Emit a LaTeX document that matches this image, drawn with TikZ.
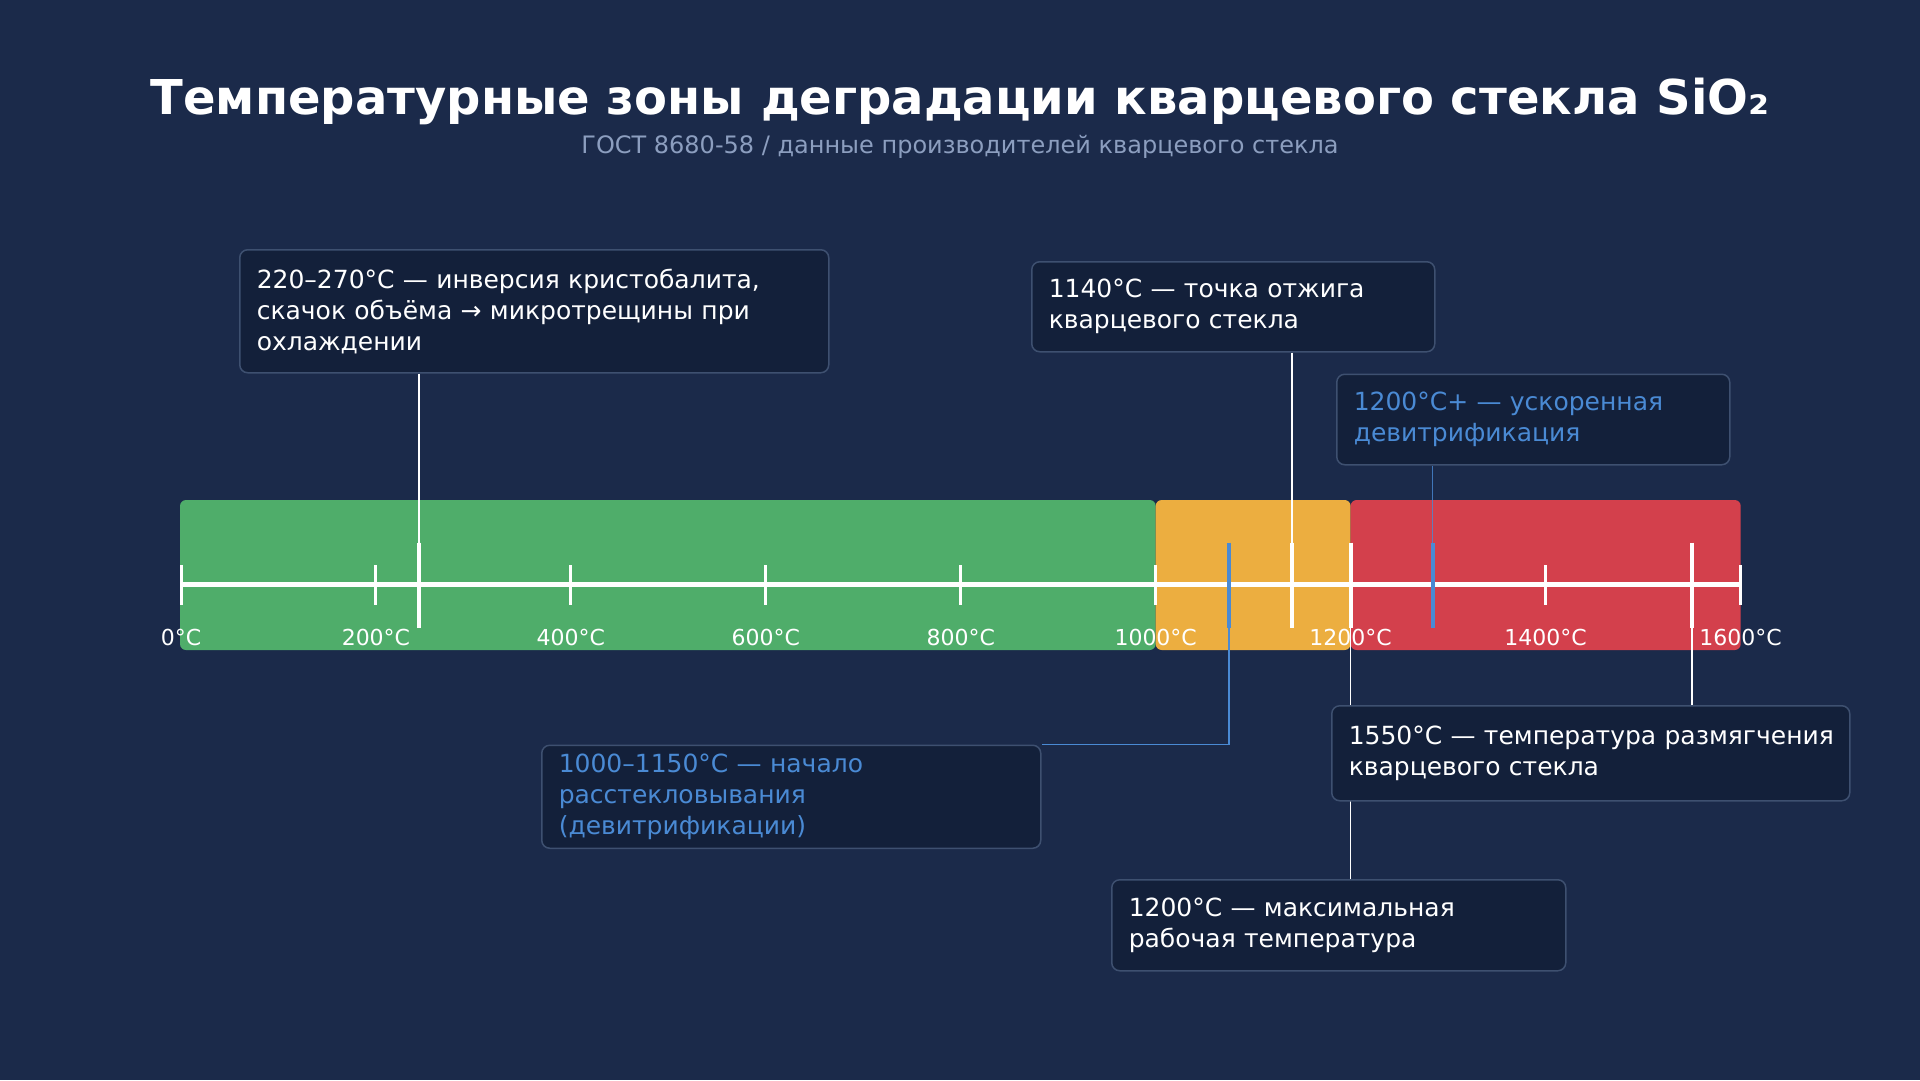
\documentclass[tikz,border=0pt]{standalone}
\usepackage{fontspec}
\setmainfont{DejaVu Sans}
\definecolor{bg}{HTML}{1B2A4A}
\definecolor{boxfill}{HTML}{13203A}
\definecolor{boxline}{HTML}{3E5070}
\definecolor{zgreen}{HTML}{4FAD6A}
\definecolor{zorange}{HTML}{ECAE40}
\definecolor{zred}{HTML}{D3404C}
\definecolor{accent}{HTML}{4A8AD4}
\definecolor{subt}{HTML}{8C9EBF}
\begin{document}
\begin{tikzpicture}[x=1pt,y=-1pt,
  box/.style={draw=boxline, line width=1.5pt, fill=boxfill, rounded corners=8pt,
    inner xsep=17pt, inner ysep=0pt, align=left, anchor=north west,
    font=\fontsize{25}{31}\selectfont, text=white},
  bluetext/.style={text=accent},
  zone/.style={rounded corners=6pt},
  axisline/.style={draw=white, line width=4.5pt},
  minortick/.style={draw=white, line width=3pt},
  marker/.style={line width=4pt},
  conn/.style={line width=1.5pt},
  ticklabel/.style={font=\fontsize{22}{26}\selectfont, text=white, anchor=base, inner sep=0pt}
]
\fill[bg] (0,0) rectangle (1920,1080);
\useasboundingbox (0,0) rectangle (1920,1080);

% title
\node[font=\fontsize{48}{54}\selectfont\bfseries, text=white, anchor=base, inner sep=0pt] (title) at (960,114)
  {Температурные зоны деградации кварцевого стекла SiO₂};
\node[font=\fontsize{24}{28}\selectfont, text=subt, anchor=base, inner sep=0pt] (subtitle) at (960,153)
  {ГОСТ 8680-58 / данные производителей кварцевого стекла};

% zones
\fill[zgreen, zone] (180,500) rectangle (1155.7,650);
\fill[zorange, zone] (1155.7,500) rectangle (1350.6,650);
\fill[zred, zone] (1350.6,500) rectangle (1740.7,650);

% axis
\coordinate (a0) at (181,584.5);
\coordinate (a1600) at (1740.5,584.5);
\draw[axisline] (a0) -- (a1600);
\foreach \t in {0,200,...,1600}{
  \pgfmathsetmacro{\xx}{181+\t*0.97469}
  \draw[minortick] (\xx,565) -- (\xx,605);
  \node[ticklabel] (lab\t) at (\xx,645) {\t°C};
}

% marker coordinates
\coordinate (m245t) at (419,542.5);   \coordinate (m245b) at (419,627.5);
\coordinate (m1075t) at (1229,542.5); \coordinate (m1075b) at (1229,627.5);
\coordinate (m1140t) at (1292,542.5); \coordinate (m1140b) at (1292,627.5);
\coordinate (m1200t) at (1350.6,542.5); \coordinate (m1200b) at (1350.6,627.5);
\coordinate (m1285t) at (1432.5,542.5); \coordinate (m1285b) at (1432.5,627.5);
\coordinate (m1550t) at (1692,542.5); \coordinate (m1550b) at (1692,627.5);

% boxes
\node[box, minimum width=589pt, minimum height=123pt, text width=555pt] (b1) at (239,249)
  {220–270°C — инверсия кристобалита,\\скачок объёма → микротрещины при\\охлаждении};
\node[box, minimum width=403pt, minimum height=90pt, text width=369pt] (b2) at (1031,261)
  {1140°C — точка отжига\\кварцевого стекла};
\node[box, bluetext, minimum width=393pt, minimum height=90.5pt, text width=359pt] (b3) at (1336,373.5)
  {1200°C+ — ускоренная\\девитрификация};
\node[box, bluetext, minimum width=499pt, minimum height=103pt, text width=465pt] (b4) at (541,744.5)
  {1000–1150°C — начало\\расстекловывания\\(девитрификации)};
\node[box, minimum width=454pt, minimum height=91pt, text width=420pt] (b6) at (1111,879)
  {1200°C — максимальная\\рабочая температура};

% connector through b5 (drawn before b5)
\draw[conn, white] (m1200b) -- (m1200b |- b6.north);

\node[box, minimum width=518pt, minimum height=95pt, text width=484pt] (b5) at (1331,705)
  {\makebox[484pt][l]{1550°C — температура размягчения}\\кварцевого стекла};

% connectors
\draw[conn, white] (b1.south -| m245t) -- (m245t);
\draw[conn, white] (b2.south -| m1140t) -- (m1140t);
\draw[conn, accent, opacity=0.8] (b3.south -| m1285t) -- (m1285t);
\draw[conn, accent] (m1075b) |- (b4.north east);
\draw[conn, white] (m1550b) -- (m1550b |- b5.north);

% markers
\draw[marker, white] (m245t) -- (m245b);
\draw[marker, accent] (m1075t) -- (m1075b);
\draw[marker, white] (m1140t) -- (m1140b);
\draw[marker, white] (m1200t) -- (m1200b);
\draw[marker, accent] (m1285t) -- (m1285b);
\draw[marker, white] (m1550t) -- (m1550b);
\end{tikzpicture}
\end{document}
